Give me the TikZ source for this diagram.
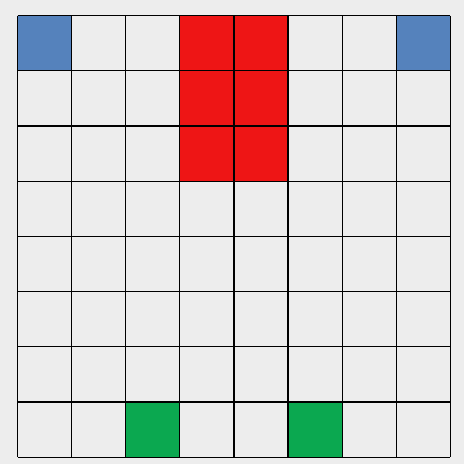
\documentclass[tikz,border=0pt]{standalone}
\definecolor{bgc}{HTML}{EDEDED}
\definecolor{cellblue}{HTML}{5582BC}
\definecolor{cellred}{HTML}{EE1515}
\definecolor{cellgreen}{HTML}{0BA850}
\begin{document}
\begin{tikzpicture}[x=1pt,y=-1pt,
  gridline/.style={draw=black,line width=1.2pt},
  fillcell/.style={fill=#1}]
\fill[bgc] (0,0) rectangle (464,464);
\useasboundingbox (0,0) rectangle (464,464);
\def\xo{17.5}\def\dx{54.1}\def\yo{15.5}\def\dy{55.2}
% coloured cells: column, row, colour
\foreach \c/\r/\col in {0/0/cellblue,7/0/cellblue,3/0/cellred,4/0/cellred,3/1/cellred,4/1/cellred,3/2/cellred,4/2/cellred,2/7/cellgreen,5/7/cellgreen}{
  \fill[\col] ({\xo+\c*\dx},{\yo+\r*\dy}) rectangle ({\xo+(\c+1)*\dx},{\yo+(\r+1)*\dy});
}
\foreach \i in {0,...,8}{
  \draw[gridline] ({\xo+\i*\dx},{\yo}) -- ({\xo+\i*\dx},{\yo+8*\dy});
  \draw[gridline] ({\xo},{\yo+\i*\dy}) -- ({\xo+8*\dx},{\yo+\i*\dy});
}
\end{tikzpicture}
\end{document}
